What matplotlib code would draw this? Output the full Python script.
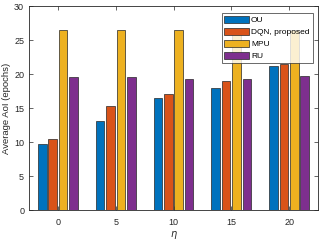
import matplotlib
matplotlib.use("Agg")
import matplotlib.pyplot as plt
import numpy as np

eta = ["0", "5", "10", "15", "20"]
series = ["OU", "DQN, proposed", "MPU", "RU"]
ou = [9.7, 13.1, 16.5, 18.0, 21.2]
dqn = [10.4, 15.3, 17.0, 19.0, 21.4]
mpu = [26.4, 26.4, 26.4, 26.4, 26.4]
ru = [19.5, 19.5, 19.2, 19.3, 19.7]
colors = ["#0072BD", "#D95319", "#EDB120", "#7E2F8E"]

plt.rcParams['font.family'] = ['Liberation Sans', 'DejaVu Sans']
fig = plt.figure(figsize=(3.21, 2.41), dpi=100)
ax = fig.add_axes([29/321, 1 - 210/241, (318-29)/321, (210-6)/241])

x = np.arange(1, len(eta) + 1)
offs = np.array([-1.5, -0.5, 0.5, 1.5]) * 0.18
gray = (0.15, 0.15, 0.15)
for i, (vals, lab) in enumerate(zip([ou, dqn, mpu, ru], series)):
    ax.bar(x + offs[i], vals, width=0.147, color=colors[i], edgecolor=(0.15, 0.15, 0.15),
           linewidth=0.5, label=lab, zorder=2)

ax.set_xlim(0.5, 5.5)
ax.set_ylim(0, 30)
ax.set_xticks(x)
ax.set_xticklabels(eta)
ax.set_yticks(np.arange(0, 31, 5))
ax.tick_params(direction='in', length=3, width=0.5, labelsize=6.5, colors=gray,
               top=True, right=True)
ax.tick_params(axis='x', pad=6)
ax.tick_params(axis='y', pad=3.5)
for s in ax.spines.values():
    s.set_linewidth(0.6)
    s.set_color(gray)
ax.set_ylabel("Average AoI (epochs)", fontsize=6.8, color=gray, labelpad=2)
ax.set_xlabel(r"$\eta$", fontsize=7, color=gray, labelpad=1)

leg = ax.legend(loc='upper right', fontsize=6, frameon=True, fancybox=False,
                borderpad=0.35, labelspacing=0.4, handlelength=2.9, handleheight=1.0,
                handletextpad=0.3, borderaxespad=0.0, bbox_to_anchor=(0.981, 0.966))
leg.get_frame().set_edgecolor(gray)
leg.get_frame().set_linewidth(0.6)
leg.set_zorder(5)

fig.savefig("out.png", dpi=100)
